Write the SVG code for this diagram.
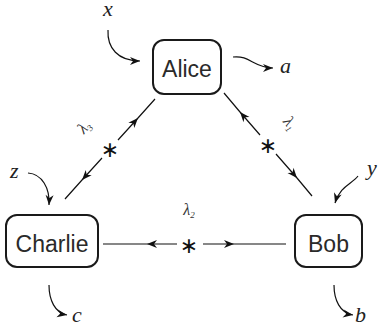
<svg xmlns="http://www.w3.org/2000/svg" width="379" height="328" viewBox="0 0 379 328">
<style>
.box{fill:#fff;stroke:#1a1a1a;stroke-width:2}
.nt{font-family:"Liberation Sans",Arial,sans-serif;font-size:23px;fill:#2a2a2a;text-anchor:middle}
.ln{fill:none;stroke:#111;stroke-width:1.2}
.mi{font-family:"Liberation Serif","Times New Roman",serif;font-style:italic;font-size:22px;fill:#222}
.lam{font-family:"Liberation Serif","Times New Roman",serif;font-style:italic;font-size:16px;fill:#333;text-anchor:middle}
.star{font-family:"DejaVu Sans",sans-serif;font-size:22px;fill:#111;text-anchor:middle}
</style>
<defs>
<marker id="arr" viewBox="-11 -5 13 10" refX="0" refY="0" markerWidth="13" markerHeight="10" orient="auto" markerUnits="userSpaceOnUse">
<path d="M0,0 L-10,-4 L-7,0 L-10,4 Z" fill="#111"/>
</marker>
</defs>
<g id="connectors">
<path class="ln" d="M177,244 L147,244 L103,244" marker-mid="url(#arr)"/>
<path class="ln" d="M203,244 L234,244 L286,244" marker-mid="url(#arr)"/>
<path class="ln" d="M102,158 L82,180 L65,199" marker-mid="url(#arr)"/>
<path class="ln" d="M118,140 L138,118 L155,99" marker-mid="url(#arr)"/>
<path class="ln" d="M260,135 L240,112 L224,93" marker-mid="url(#arr)"/>
<path class="ln" d="M276,154 L297,178 L312,196" marker-mid="url(#arr)"/>
<path class="ln" d="M108,30 C107,48 118,61 140,61" marker-end="url(#arr)"/>
<path class="ln" d="M233,57 C250,55 254,68 273,68" marker-end="url(#arr)"/>
<path class="ln" d="M28,173 C42,174 50,188 49,205" marker-end="url(#arr)"/>
<path class="ln" d="M358,176 C352,184 340,186 335,203" marker-end="url(#arr)"/>
<path class="ln" d="M49,285 C49,300 55,313 67,315" marker-end="url(#arr)"/>
<path class="ln" d="M334,285 C334,300 340,313 353,315" marker-end="url(#arr)"/>
<text class="star" x="189" y="253">∗</text>
<text class="star" x="110" y="157">∗</text>
<text class="star" x="268" y="153">∗</text>
<text class="lam" x="189" y="215">λ<tspan font-size="9" dy="3">2</tspan></text>
<text class="lam" transform="translate(84,127) rotate(-48)" x="0" y="5">λ<tspan font-size="9" dy="3">3</tspan></text>
<text class="lam" transform="translate(290,123) rotate(49)" x="0" y="5">λ<tspan font-size="9" dy="3">1</tspan></text>
</g>
<g id="alice">
<rect class="box" x="153" y="40" width="68" height="54" rx="11"/>
<text class="nt" x="187" y="77">Alice</text>
</g>
<g id="bob">
<rect class="box" x="295" y="215" width="67" height="52" rx="11"/>
<text class="nt" x="328.5" y="252">Bob</text>
</g>
<g id="charlie">
<rect class="box" x="6" y="215" width="92" height="52" rx="11"/>
<text class="nt" x="52" y="252">Charlie</text>
</g>
<g id="inputs">
<text class="mi" x="103" y="16">x</text>
<text class="mi" x="280" y="73">a</text>
<text class="mi" x="10" y="178">z</text>
<text class="mi" x="367" y="175">y</text>
<text class="mi" x="72" y="322">c</text>
<text class="mi" x="355" y="322">b</text>
</g>
</svg>
